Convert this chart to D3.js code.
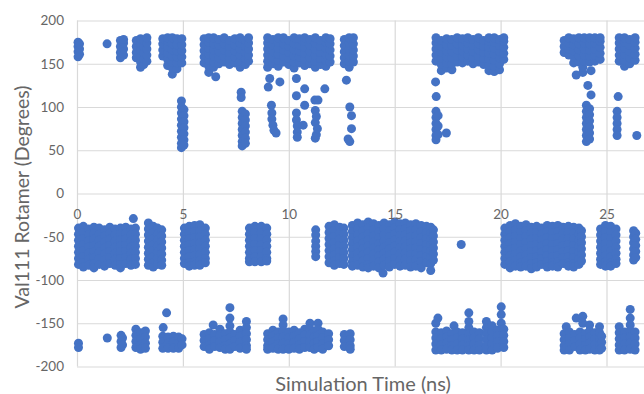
<!DOCTYPE html>
<html>
<head>
<meta charset="utf-8">
<script src="https://cdn.jsdelivr.net/npm/d3@7"></script>
<style>
  html, body { margin: 0; padding: 0; background: #ffffff; }
  svg { display: block; }
  text { font-family: Lato, "Open Sans", sans-serif; fill: #666666; }
</style>
</head>
<body>
<svg id="chart" width="644" height="394"></svg>
<script>
// Axis ticks
const xTicks = [0, 5, 10, 15, 20, 25];
const yTicks = [200, 150, 100, 50, 0, -50, -100, -150, -200];

// Val111 side-chain angle samples, one row per time (ns): [time, angle, angle, ...]
// trans-like rotamer near 150..180 degrees
const topBand = [
  [0.05, 158, 164, 170, 175],
  [0.12, 161, 167, 173],
  [1.42, 173],
  [2.05, 157, 163, 170, 177],
  [2.2, 160, 167, 174, 178],
  [2.8, 157, 163, 170, 177],
  [3.0, 146, 152, 159, 166, 173, 179],
  [3.15, 149, 156, 163, 170, 177],
  [3.3, 153, 160, 167, 174, 180],
  [4.05, 159, 166, 173, 179],
  [4.28, 148, 155, 162, 169, 176, 180],
  [4.5, 138, 145, 152, 159, 166, 173, 180],
  [4.72, 144, 151, 158, 165, 172, 179],
  [4.95, 151, 158, 165, 172, 179],
  [6.0, 151, 158, 165, 172, 179],
  [6.22, 140, 147, 154, 161, 168, 175, 180],
  [6.45, 146, 152, 159, 166, 173, 180],
  [6.55, 135],
  [6.7, 150, 157, 164, 171, 178],
  [6.95, 152, 159, 166, 173, 180],
  [7.2, 149, 156, 163, 170, 177],
  [7.45, 151, 158, 165, 172, 179],
  [7.7, 146, 153, 160, 167, 174, 180],
  [7.95, 149, 156, 163, 170, 177],
  [8.1, 153, 160, 167, 174, 180],
  [9.0, 146, 153, 160, 167, 174, 180],
  [9.25, 150, 157, 164, 171, 178],
  [9.5, 147, 154, 161, 168, 175, 180],
  [9.75, 152, 159, 166, 173, 180],
  [10.0, 149, 156, 163, 170, 177],
  [10.25, 145, 152, 159, 166, 173, 180],
  [10.5, 151, 158, 165, 172, 179],
  [10.75, 148, 155, 162, 169, 176, 180],
  [11.0, 150, 157, 164, 171, 178],
  [11.25, 146, 153, 160, 167, 174, 180],
  [11.5, 149, 156, 163, 170, 177],
  [11.75, 147, 154, 161, 168, 175, 180],
  [11.95, 152, 159, 166, 173, 179],
  [12.62, 150, 157, 164, 171, 178],
  [12.85, 146, 153, 160, 167, 174, 180],
  [13.05, 152, 159, 166, 173, 180],
  [16.95, 153, 160, 167, 174, 180],
  [17.2, 142, 149, 156, 163, 170, 177],
  [17.45, 145, 151, 158, 165, 172, 179],
  [17.7, 143, 150, 157, 164, 171, 178],
  [17.95, 152, 159, 166, 173, 180],
  [18.2, 151, 158, 165, 172, 179],
  [18.45, 153, 160, 167, 174, 180],
  [18.7, 150, 157, 164, 171, 178],
  [18.95, 152, 159, 166, 173, 180],
  [19.2, 149, 156, 163, 170, 177],
  [19.45, 142, 148, 155, 162, 169, 176, 180],
  [19.7, 141, 147, 154, 161, 168, 175, 180],
  [19.95, 143, 150, 157, 164, 171, 178],
  [20.15, 155, 162, 169, 176, 180],
  [23.0, 163, 170, 177],
  [23.22, 160, 167, 174, 180],
  [23.45, 151, 158, 165, 172, 179],
  [23.57, 137],
  [23.7, 152, 159, 166, 173, 180],
  [23.88, 140, 146],
  [23.95, 153, 160, 167, 174, 180],
  [24.2, 152, 159, 166, 173, 180],
  [24.27, 142],
  [24.45, 153, 160, 167, 174, 180],
  [24.7, 155, 162, 169, 176, 180],
  [25.6, 153, 160, 167, 174, 180],
  [25.85, 147, 154, 161, 168, 175, 180],
  [26.1, 150, 157, 164, 171, 178],
  [26.35, 154, 161, 168, 175, 180]
];

// transitions between rotamers, 50..140 degrees
const upperTransit = [
  [4.93, 107, 100, 93, 86, 79, 72, 65, 58, 53],
  [5.05, 97, 90, 83, 76, 69, 62, 56],
  [7.75, 117, 111],
  [7.8, 95, 88, 81, 74, 67, 60, 55],
  [7.95, 92, 85, 78, 71, 64, 58],
  [9.03, 123], [9.1, 133], [9.58, 129], [9.18, 102],
  [9.2, 93, 86], [9.25, 79], [9.3, 73], [9.4, 70],
  [10.36, 133, 113, 93, 85], [10.4, 78, 71, 65],
  [10.75, 121, 102], [10.68, 79],
  [11.23, 108], [11.38, 108],
  [11.25, 96, 82, 64], [11.3, 89, 68], [11.35, 75],
  [11.7, 121], [12.72, 131],
  [12.88, 100, 60], [12.96, 90, 75], [12.8, 63],
  [16.93, 129], [16.96, 112],
  [16.95, 95, 88, 81, 74, 67, 62],
  [17.05, 90, 78, 68], [17.44, 70],
  [24.12, 125], [24.27, 114],
  [24.05, 102, 95, 88, 81, 74, 67, 60],
  [24.2, 98, 91, 84, 77, 70, 63],
  [25.55, 112],
  [25.5, 95, 88, 81, 74, 67],
  [26.43, 67]
];

// gauche rotamer near -40..-85 degrees
const midBand = [
  [0.07, -40, -47, -54, -61, -68, -75, -82],
  [0.3, -38, -45, -52, -59, -66, -73, -80, -85],
  [0.55, -41, -48, -55, -62, -69, -76, -83],
  [0.8, -39, -46, -53, -60, -67, -74, -81, -86],
  [1.05, -40, -47, -54, -61, -68, -75, -82],
  [1.3, -42, -49, -56, -63, -70, -77, -84],
  [1.55, -39, -46, -53, -60, -67, -74, -81],
  [1.8, -41, -48, -55, -62, -69, -76, -83],
  [2.05, -40, -47, -54, -61, -68, -75, -82, -86],
  [2.3, -39, -46, -53, -60, -67, -74, -81],
  [2.55, -41, -48, -55, -62, -69, -76, -83],
  [2.66, -29],
  [2.76, -40, -47, -54, -61, -68, -75, -82],
  [3.37, -34, -41, -48, -55, -62, -69, -76, -83],
  [3.6, -38, -45, -52, -59, -66, -73, -80, -85],
  [3.8, -40, -47, -54, -61, -68, -75, -82],
  [4.0, -42, -49, -56, -63, -70, -77, -83],
  [5.07, -40, -47, -54, -61, -68, -75, -81],
  [5.3, -38, -45, -52, -59, -66, -73, -80, -84],
  [5.55, -37, -44, -51, -58, -65, -72, -79, -83],
  [5.8, -36, -43, -50, -57, -64, -71, -78, -83],
  [6.06, -40, -47, -54, -61, -68, -75, -80],
  [8.14, -40, -47, -54, -61, -68, -75, -79],
  [8.4, -38, -45, -52, -59, -66, -73, -79],
  [8.7, -38, -45, -52, -59, -66, -73, -79],
  [8.96, -40, -47, -54, -61, -68, -75, -78],
  [11.27, -42, -48, -55, -61, -67, -73],
  [11.9, -38, -45, -52, -59, -66, -73, -80],
  [12.15, -36, -43, -50, -57, -64, -71, -78, -83],
  [12.4, -39, -46, -53, -60, -67, -74, -81],
  [12.6, -40, -47, -54, -61, -68, -75, -82],
  [13.0, -37, -44, -51, -58, -65, -72, -79, -84],
  [13.25, -34, -41, -48, -55, -62, -69, -76, -83],
  [13.5, -36, -43, -50, -57, -64, -71, -78, -85],
  [13.75, -33, -40, -47, -54, -61, -68, -75, -82, -86],
  [14.0, -35, -42, -49, -56, -63, -70, -77, -84],
  [14.25, -37, -44, -51, -58, -65, -72, -79, -86],
  [14.45, -92],
  [14.5, -34, -41, -48, -55, -62, -69, -76, -83],
  [14.75, -36, -43, -50, -57, -64, -71, -78, -85],
  [15.0, -33, -40, -47, -54, -61, -68, -75, -82],
  [15.25, -35, -42, -49, -56, -63, -70, -77, -84],
  [15.5, -34, -41, -48, -55, -62, -69, -76, -83],
  [15.75, -36, -43, -50, -57, -64, -71, -78, -85],
  [16.0, -35, -42, -49, -56, -63, -70, -77, -84],
  [16.25, -37, -44, -51, -58, -65, -72, -79, -86],
  [16.5, -38, -45, -52, -59, -66, -73, -80],
  [16.7, -39, -46, -53, -60, -67, -74, -81, -89],
  [16.83, -42, -49, -56, -63, -70, -77],
  [18.14, -59],
  [20.2, -40, -47, -54, -61, -68, -75, -82],
  [20.45, -37, -44, -51, -58, -65, -72, -79, -86],
  [20.7, -35, -42, -49, -56, -63, -70, -77, -84],
  [20.95, -38, -45, -52, -59, -66, -73, -80, -85],
  [21.2, -36, -43, -50, -57, -64, -71, -78, -84],
  [21.45, -39, -46, -53, -60, -67, -74, -81, -87],
  [21.7, -38, -45, -52, -59, -66, -73, -80, -85],
  [21.95, -40, -47, -54, -61, -68, -75, -82],
  [22.2, -37, -44, -51, -58, -65, -72, -79, -85],
  [22.45, -38, -45, -52, -59, -66, -73, -80, -84],
  [22.7, -37, -44, -51, -58, -65, -72, -79, -85],
  [22.95, -39, -46, -53, -60, -67, -74, -81],
  [23.2, -38, -45, -52, -59, -66, -73, -80, -84],
  [23.45, -39, -46, -53, -60, -67, -74, -81, -85],
  [23.7, -40, -47, -54, -61, -68, -75, -82],
  [23.82, -43, -50, -57, -64, -71, -78],
  [24.72, -41, -48, -55, -62, -69, -76, -82],
  [24.95, -37, -44, -51, -58, -65, -72, -79, -84],
  [25.2, -38, -45, -52, -59, -66, -73, -80, -84],
  [25.45, -41, -48, -55, -62, -69, -76, -81],
  [26.28, -43, -50, -57, -64, -71, -77],
  [26.38, -46, -53, -60, -67, -74]
];

// second rotamer near -150..-180 degrees
const lowBand = [
  [0.07, -173, -178],
  [1.43, -167],
  [2.08, -164, -171, -178],
  [2.15, -167, -175],
  [2.78, -157, -164, -171, -178],
  [3.0, -161, -168, -175, -180],
  [3.23, -159, -166, -173, -179],
  [4.05, -165, -172, -179],
  [4.07, -155],
  [4.23, -138],
  [4.3, -166, -173, -179],
  [4.55, -165, -172, -179],
  [4.8, -166, -173, -179],
  [4.96, -168, -175],
  [6.0, -163, -170, -177],
  [6.25, -161, -168, -175, -180],
  [6.43, -152],
  [6.5, -163, -170, -177],
  [6.75, -157, -164, -171, -178],
  [7.0, -162, -169, -176, -180],
  [7.22, -132, -144, -153, -160, -167, -174, -180],
  [7.45, -163, -170, -177],
  [7.7, -158, -165, -172, -179],
  [8.0, -148, -155, -162, -169, -176, -180],
  [9.0, -162, -169, -176, -180],
  [9.25, -158, -165, -172, -179],
  [9.5, -160, -167, -174, -180],
  [9.73, -145, -152, -159, -166, -173, -180],
  [10.0, -160, -167, -174, -180],
  [10.25, -158, -165, -172, -179],
  [10.5, -161, -168, -175, -180],
  [10.75, -157, -164, -171, -178],
  [11.0, -150, -157, -164, -171, -178],
  [11.2, -159, -166, -173, -180],
  [11.38, -150, -157, -164, -171, -178],
  [11.6, -160, -167, -174, -180],
  [11.88, -162, -169, -176],
  [12.62, -163, -170, -177],
  [12.9, -162, -169, -176, -180],
  [16.94, -150, -160, -167, -174, -181],
  [17.04, -144],
  [17.2, -161, -168, -175, -181],
  [17.45, -159, -166, -173, -180],
  [17.7, -162, -169, -176, -181],
  [17.8, -153],
  [17.95, -160, -167, -174, -181],
  [18.2, -161, -168, -175, -181],
  [18.5, -138, -148, -155, -162, -169, -176, -181],
  [18.75, -160, -167, -174, -181],
  [19.0, -161, -168, -175, -181],
  [19.33, -148, -155, -162, -169, -176, -181],
  [19.6, -153, -160, -167, -174, -181],
  [19.85, -158, -165, -172, -179],
  [20.03, -131, -140, -150],
  [20.15, -157, -164, -171, -178],
  [23.0, -162, -169, -176, -181],
  [23.1, -154],
  [23.25, -160, -167, -174, -181],
  [23.5, -163, -170, -177],
  [23.57, -144],
  [23.75, -160, -167, -174, -181],
  [23.88, -142, -150],
  [24.0, -162, -169, -176, -181],
  [24.2, -152, -159, -166, -173, -180],
  [24.45, -161, -168, -175, -181],
  [24.67, -154, -161, -168, -175, -181],
  [24.77, -165, -172, -179],
  [25.6, -154, -161, -168, -175, -181],
  [25.85, -160, -167, -174, -181],
  [26.12, -134, -144, -152, -159, -166, -173, -180],
  [26.35, -160, -167, -174, -181]
];

const svg = d3.select("#chart");
const W = 644, H = 394;
const plot = { left: 77, top: 20.5, bottom: 366.5 };

const x = d3.scaleLinear().domain([0, 30]).range([plot.left, plot.left + 30 * 21.18]);
const y = d3.scaleLinear().domain([-200, 200]).range([plot.bottom, plot.top]);

// plain hyphen-minus for negative labels
const fmt = d => String(d);

// horizontal gridlines
const gy = svg.append("g")
  .attr("transform", `translate(${plot.left},0)`)
  .call(d3.axisLeft(y).tickValues(yTicks).tickSize(-(W - plot.left)).tickFormat(""));
gy.select(".domain").remove();
gy.selectAll(".tick line").attr("stroke", "#d9d9d9").attr("stroke-width", 1.2);

// vertical gridlines
const gx = svg.append("g")
  .attr("transform", `translate(0,${plot.bottom})`)
  .call(d3.axisBottom(x).tickValues(xTicks).tickSize(-(plot.bottom - plot.top)).tickFormat(""));
gx.select(".domain").remove();
gx.selectAll(".tick line").attr("stroke", "#d9d9d9").attr("stroke-width", 1.2);

// flatten rows into points
const toPoints = rows => rows.flatMap(r => r.slice(1).map(a => ({ t: r[0], a })));
const points = [topBand, upperTransit, midBand, lowBand].flatMap(toPoints);

svg.append("g")
  .selectAll("circle")
  .data(points)
  .join("circle")
  .attr("cx", d => x(d.t))
  .attr("cy", d => y(d.a))
  .attr("r", 4.5)
  .attr("fill", "#4472C4");

// y tick labels
const ly = svg.append("g")
  .attr("transform", `translate(${plot.left},0)`)
  .call(d3.axisLeft(y).tickValues(yTicks).tickSize(0).tickPadding(13).tickFormat(fmt));
ly.select(".domain").remove();
ly.selectAll("text").attr("font-size", 13.5).attr("font-family", "Lato, sans-serif").attr("fill", "#666666");

// x tick labels, sitting on the zero line
const lx = svg.append("g")
  .attr("transform", `translate(0,${y(0)})`)
  .call(d3.axisBottom(x).tickValues(xTicks).tickSize(0).tickPadding(16).tickFormat(fmt));
lx.select(".domain").remove();
lx.selectAll("text").attr("font-size", 13.5).attr("font-family", "Lato, sans-serif").attr("fill", "#666666");

// axis titles
svg.append("text")
  .attr("x", 363).attr("y", 390.5)
  .attr("text-anchor", "middle")
  .attr("font-size", 20)
  .text("Simulation Time (ns)");

svg.append("text")
  .attr("transform", "translate(28.5,197) rotate(-90)")
  .attr("text-anchor", "middle")
  .attr("font-size", 19.5)
  .text("Val111 Rotamer (Degrees)");
</script>
</body>
</html>
